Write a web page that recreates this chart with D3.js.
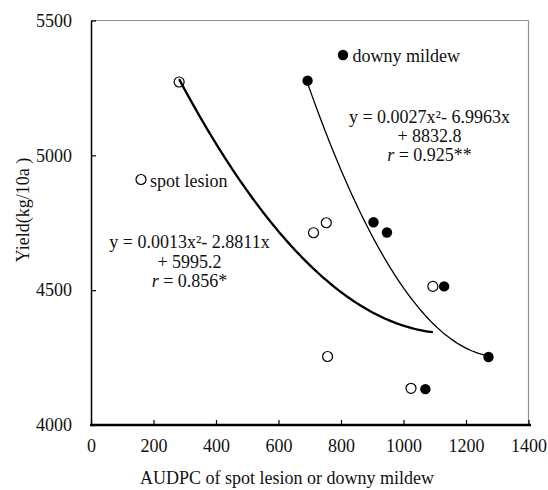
<!DOCTYPE html>
<html>
<head>
<meta charset="utf-8">
<script src="https://cdn.jsdelivr.net/npm/d3@7"></script>
<style>
  html, body { margin: 0; padding: 0; background: #fff; }
  svg { display: block; }
  text { font-family: "Times New Roman", "Liberation Serif", serif; fill: #111; }
</style>
</head>
<body>
<svg id="chart" width="548" height="490"></svg>
<script>
// Spot lesion: AUDPC vs yield
const spotX = [282, 712, 753, 757, 1024, 1094];
const spotY = [5272, 4713, 4750, 4254, 4136, 4514];
// Downy mildew: AUDPC vs yield
const downyX = [693, 904, 947, 1070, 1130, 1272];
const downyY = [5277, 4752, 4714, 4133, 4514, 4252];

// Quadratic trend coefficients [a, b, c] for y = a*x^2 + b*x + c
const spotFit = [0.001254, -2.8811, 5995.2];
const downyFit = [0.002672, -6.9963, 8832.8];
const spotR = "0.856*";
const downyR = "0.925**";

// Axis ticks and titles
const xTicks = [0, 200, 400, 600, 800, 1000, 1200, 1400];
const yTicks = [4000, 4500, 5000, 5500];
const xTitle = "AUDPC of spot lesion or downy mildew";
const yTitle = "Yield(kg/10a )";
const spotName = "spot lesion";
const downyName = "downy mildew";

const svg = d3.select("#chart");
const x = d3.scaleLinear().domain([0, 1400]).range([91, 528.5]);
const y = d3.scaleLinear().domain([4000, 5500]).range([425, 20.5]);

// plot frame: grey top and right edges
svg.append("line").attr("x1", x(0)).attr("x2", x(1400)).attr("y1", y(5500)).attr("y2", y(5500))
  .attr("stroke", "#8f8f8f").attr("stroke-width", 1.2);
svg.append("line").attr("x1", x(1400)).attr("x2", x(1400)).attr("y1", y(5500)).attr("y2", y(4000))
  .attr("stroke", "#8f8f8f").attr("stroke-width", 1.2);

// axes
const fmt = d3.format("d");
const gx = svg.append("g").attr("transform", `translate(0,${y(4000)})`)
  .call(d3.axisBottom(x).tickValues(xTicks).tickFormat(fmt).tickSizeInner(-5).tickSizeOuter(0).tickPadding(14));
gx.select(".domain").attr("stroke", "#000").attr("stroke-width", 2.5)
  .attr("d", `M${x(0) - 1},0H${x(1400) + 2.5}`);
gx.selectAll(".tick line").attr("stroke", "#000").attr("stroke-width", 1.2);
gx.selectAll(".tick text").attr("font-size", 18).attr("font-family", null).attr("fill", "#111");

const gy = svg.append("g").attr("transform", `translate(${x(0)},0)`)
  .call(d3.axisLeft(y).tickValues(yTicks).tickFormat(fmt).tickSizeInner(-5).tickSizeOuter(0).tickPadding(19));
gy.select(".domain").attr("stroke", "#000").attr("stroke-width", 1.5);
gy.selectAll(".tick line").attr("stroke", "#000").attr("stroke-width", 1.2);
gy.selectAll(".tick text").attr("font-size", 18).attr("font-family", null).attr("fill", "#111");

// axis titles
svg.append("text").attr("x", 287).attr("y", 484).attr("text-anchor", "middle")
  .attr("font-size", 18).text(xTitle);
svg.append("text").attr("transform", "translate(29,210) rotate(-90)").attr("text-anchor", "middle")
  .attr("font-size", 18).text(yTitle);

// data points
const spotPts = spotX.map((v, i) => [v, spotY[i]]);
const downyPts = downyX.map((v, i) => [v, downyY[i]]);

svg.append("g").selectAll("circle").data(spotPts).join("circle")
  .attr("cx", d => x(d[0])).attr("cy", d => y(d[1])).attr("r", 5)
  .attr("fill", "#fff").attr("stroke", "#000").attr("stroke-width", 1.2);
svg.append("g").selectAll("circle").data(downyPts).join("circle")
  .attr("cx", d => x(d[0])).attr("cy", d => y(d[1])).attr("r", 5.2)
  .attr("fill", "#000");

// quadratic trend curves over each series' x range
function trend(coef, xs) {
  const [a, b, c] = coef;
  const lo = d3.min(xs), hi = d3.max(xs);
  const pts = d3.range(0, 101).map(i => {
    const t = lo + (hi - lo) * i / 100;
    return [t, a * t * t + b * t + c];
  });
  return d3.line().x(d => x(d[0])).y(d => y(d[1]))(pts);
}
svg.append("path").attr("d", trend(spotFit, spotX)).attr("fill", "none")
  .attr("stroke", "#000").attr("stroke-width", 2.3);
svg.append("path").attr("d", trend(downyFit, downyX)).attr("fill", "none")
  .attr("stroke", "#000").attr("stroke-width", 1.3);

// legend markers and names
svg.append("circle").attr("cx", 141).attr("cy", 179.5).attr("r", 5)
  .attr("fill", "#fff").attr("stroke", "#000").attr("stroke-width", 1.2);
svg.append("text").attr("x", 150).attr("y", 187).attr("font-size", 18).text(spotName);
svg.append("circle").attr("cx", 343).attr("cy", 55).attr("r", 5.2).attr("fill", "#000");
svg.append("text").attr("x", 352.5).attr("y", 61.5).attr("font-size", 18).text(downyName);

// equation labels
function eqLines(coef) {
  const [a, b, c] = coef;
  return [
    `y = ${a.toFixed(4)}x\u00B2- ${Math.abs(b).toFixed(4)}x`,
    `+ ${c.toFixed(1)}`
  ];
}
function drawEq(coef, rText, cx, y0, gap) {
  const lines = eqLines(coef);
  lines.forEach((s, i) => {
    svg.append("text").attr("x", cx).attr("y", y0 + i * gap)
      .attr("text-anchor", "middle").attr("font-size", 18).text(s);
  });
  const t = svg.append("text").attr("x", cx).attr("y", y0 + 2 * gap)
    .attr("text-anchor", "middle").attr("font-size", 18);
  t.append("tspan").attr("font-style", "italic").text("r");
  t.append("tspan").text(" = " + rText);
}
drawEq(spotFit, spotR, 189.5, 248, 19.7);
drawEq(downyFit, downyR, 429.5, 122.5, 19);
</script>
</body>
</html>
